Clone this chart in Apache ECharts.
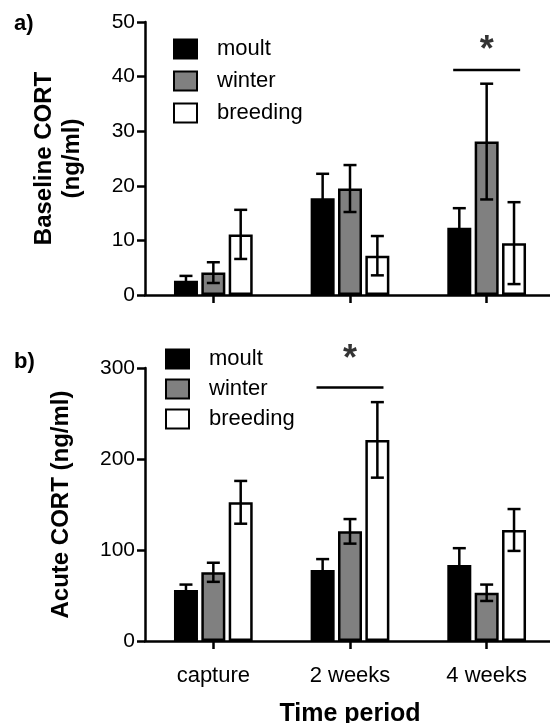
<!DOCTYPE html>
<html>
<head>
<meta charset="utf-8">
<script src="https://cdn.jsdelivr.net/npm/echarts@6/dist/echarts.min.js"></script>
<style>
html,body{margin:0;padding:0;background:#fff;}
#chart{width:550px;height:723px;}
</style>
</head>
<body>
<div id="chart"></div>
<script>
// ---- data ----
const categories = ['capture', '2 weeks', '4 weeks'];
const seriesNames = ['moult', 'winter', 'breeding'];

const baseMoult = [2.6, 17.7, 12.3];
const baseMoultErr = [0.9, 4.5, 3.6];
const baseWinter = [4.1, 19.5, 28.1];
const baseWinterErr = [1.9, 4.3, 10.6];
const baseBreeding = [11.1, 7.2, 9.5];
const baseBreedingErr = [4.5, 3.6, 7.5];

const acuteMoult = [56, 78, 83.5];
const acuteMoultErr = [6, 12, 18.5];
const acuteWinter = [75.5, 120.5, 53];
const acuteWinterErr = [10.5, 13.5, 9];
const acuteBreeding = [152.4, 221, 122];
const acuteBreedingErr = [23.5, 41.5, 23];

const baseTicks = [0, 10, 20, 30, 40, 50];
const acuteTicks = [0, 100, 200, 300];

// significance markers: [category index, half-width in category units, line value, star value]
const sigA = [2, 0.245, 41.2, 44.6];
const sigB = [1, 0.245, 278.6, 308.6];

// ---- styles ----
const FONT = "'Liberation Sans', Arial, Helvetica, sans-serif";
const COLORS = ['#000000', '#808080', '#ffffff'];
const BAR_W = 24;
const BAR_GAP = 0.14;
const STEP = BAR_W * (1 + BAR_GAP);
const LW = 2.5;

const chart = echarts.init(document.getElementById('chart'), null, {renderer: 'canvas'});

function barSeries(name, data, colorIdx, gi) {
  return {
    type: 'bar', name: name, data: data,
    xAxisIndex: gi, yAxisIndex: gi,
    barWidth: BAR_W, barGap: (BAR_GAP * 100) + '%',
    itemStyle: {color: COLORS[colorIdx], borderColor: '#000', borderWidth: LW},
    emphasis: {disabled: true},
    z: 2
  };
}

function errSeries(means, errs, k, gi) {
  return {
    type: 'custom',
    xAxisIndex: gi, yAxisIndex: gi,
    data: means.map((m, i) => [i, m, errs[i]]),
    clip: false, z: 5, silent: true,
    renderItem: function (params, api) {
      const c = api.value(0), m = api.value(1), e = api.value(2);
      const top = api.coord([c, m + e]);
      const bot = api.coord([c, m - e]);
      const x = top[0] + (k - 1) * STEP;
      const cap = 6.5;
      const st = {stroke: '#000', lineWidth: LW};
      return {
        type: 'group',
        children: [
          {type: 'line', shape: {x1: x, y1: top[1], x2: x, y2: bot[1]}, style: st},
          {type: 'line', shape: {x1: x - cap, y1: top[1], x2: x + cap, y2: top[1]}, style: st},
          {type: 'line', shape: {x1: x - cap, y1: bot[1], x2: x + cap, y2: bot[1]}, style: st}
        ]
      };
    }
  };
}

function sigSeries(sig, gi) {
  return [
    {
      type: 'line', xAxisIndex: gi + 2, yAxisIndex: gi,
      data: [[sig[0] - sig[1], sig[2]], [sig[0] + sig[1], sig[2]]],
      symbol: 'none', lineStyle: {color: '#000', width: LW}, clip: false, silent: true, z: 5
    },
    {
      type: 'scatter', xAxisIndex: gi + 2, yAxisIndex: gi,
      data: [[sig[0], sig[3]]], symbolSize: 0, clip: false, silent: true,
      label: {show: true, position: 'inside', formatter: '*', fontSize: 36, fontWeight: 'bold', color: '#000', fontFamily: FONT}
    }
  ];
}

const axisLine = {show: true, onZero: false, lineStyle: {color: '#000', width: LW}};
const axisTick = {show: true, length: 8, lineStyle: {color: '#000', width: LW}};

const legendCommon = {
  orient: 'vertical', icon: 'rect', itemWidth: 23, itemHeight: 19,
  selectedMode: false,
  textStyle: {fontSize: 22, color: '#000', fontFamily: FONT, padding: [0, 0, 0, 15]},
  data: seriesNames
};

const option = {
  animation: false,
  backgroundColor: '#fff',
  textStyle: {fontFamily: FONT},
  title: [
    {text: 'a)', left: 14, top: 13, padding: 0, textStyle: {fontSize: 22, fontWeight: 'bold', color: '#000', fontFamily: FONT}},
    {text: 'b)', left: 14, top: 351, padding: 0, textStyle: {fontSize: 22, fontWeight: 'bold', color: '#000', fontFamily: FONT}}
  ],
  legend: [
    Object.assign({}, legendCommon, {left: 168, top: 33, itemGap: 10}),
    Object.assign({}, legendCommon, {left: 160, top: 343, itemGap: 8})
  ],
  grid: [
    {left: 145, top: 22, width: 410, height: 273, outerBoundsMode: 'none', containLabel: false},
    {left: 145, top: 368, width: 410, height: 273, outerBoundsMode: 'none', containLabel: false}
  ],
  xAxis: [
    {type: 'category', gridIndex: 0, data: categories, axisLine: axisLine,
     axisTick: Object.assign({alignWithLabel: true}, axisTick), axisLabel: {show: false}},
    {type: 'category', gridIndex: 1, data: categories, axisLine: axisLine,
     axisTick: Object.assign({alignWithLabel: true}, axisTick),
     axisLabel: {show: true, fontSize: 22, color: '#000', margin: 24, fontFamily: FONT},
     name: 'Time period', nameLocation: 'middle', nameGap: 61,
     nameTextStyle: {fontSize: 25, fontWeight: 'bold', color: '#000', fontFamily: FONT}},
    {type: 'value', gridIndex: 0, min: -0.5, max: 2.5, show: false},
    {type: 'value', gridIndex: 1, min: -0.5, max: 2.5, show: false}
  ],
  yAxis: [
    {type: 'value', gridIndex: 0, min: baseTicks[0], max: baseTicks[baseTicks.length - 1], interval: baseTicks[1] - baseTicks[0],
     axisLine: axisLine, axisTick: axisTick, splitLine: {show: false},
     axisLabel: {fontSize: 21, color: '#000', margin: 10, fontFamily: FONT},
     name: 'Baseline CORT\n(ng/ml)', nameLocation: 'middle', nameGap: 59, nameRotate: 90,
     nameTextStyle: {fontSize: 24, fontWeight: 'bold', color: '#000', lineHeight: 28, fontFamily: FONT}},
    {type: 'value', gridIndex: 1, min: acuteTicks[0], max: acuteTicks[acuteTicks.length - 1], interval: acuteTicks[1] - acuteTicks[0],
     axisLine: axisLine, axisTick: axisTick, splitLine: {show: false},
     axisLabel: {fontSize: 21, color: '#000', margin: 10, fontFamily: FONT},
     name: 'Acute CORT (ng/ml)', nameLocation: 'middle', nameGap: 72, nameRotate: 90,
     nameTextStyle: {fontSize: 24, fontWeight: 'bold', color: '#000', fontFamily: FONT}}
  ],
  series: [
    barSeries('moult', baseMoult, 0, 0),
    barSeries('winter', baseWinter, 1, 0),
    barSeries('breeding', baseBreeding, 2, 0),
    errSeries(baseMoult, baseMoultErr, 0, 0),
    errSeries(baseWinter, baseWinterErr, 1, 0),
    errSeries(baseBreeding, baseBreedingErr, 2, 0),
    barSeries('moult', acuteMoult, 0, 1),
    barSeries('winter', acuteWinter, 1, 1),
    barSeries('breeding', acuteBreeding, 2, 1),
    errSeries(acuteMoult, acuteMoultErr, 0, 1),
    errSeries(acuteWinter, acuteWinterErr, 1, 1),
    errSeries(acuteBreeding, acuteBreedingErr, 2, 1)
  ].concat(sigSeries(sigA, 0), sigSeries(sigB, 1))
};

chart.setOption(option);
</script>
</body>
</html>
